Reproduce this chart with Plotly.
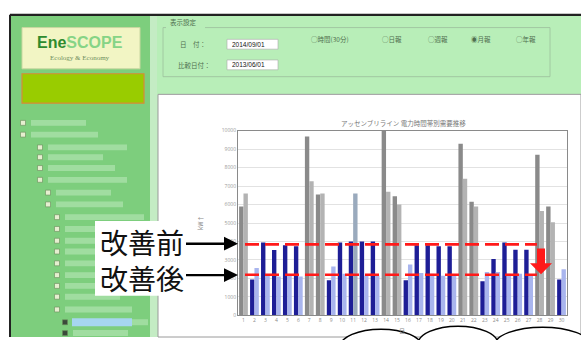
import plotly.graph_objects as go

W, H = 581, 340

# ---------------- data ----------------
days = list(range(1, 31))
holidays = [1, 7, 8, 14, 15, 21, 22, 28, 29]
current = [5900, 1950, 3950, 3540, 3800, 3750, 9680, 6550, 1900, 3950,
           4000, 4000, 4000, 10000, 6450, 1900, 3800, 3800, 3750, 3750,
           9300, 6150, 1850, 3050, 3950, 3550, 3550, 8700, 5900, 1950]
compare = [6600, 2570, 2200, 2100, 2150, 2100, 7260, 6600, 2650, 2250,
           6600, 2150, 2150, 6700, 6000, 2750, 2300, 2250, 2150, 2150,
           7400, 5900, 2350, 2350, 2250, 2250, 2200, 5650, 5050, 2500]
y_ticks = list(range(0, 10001, 1000))
y2_ticks = [0, 10]
level_before = 3846
level_after = 2197
line_span = [1.14, 27.76]
title_text = "アッセンブリライン 電力時間帯別需要推移"
labels_jp = ["改善前", "改善後"]
date_main = "2014/09/01"
date_cmp = "2013/06/01"
radio_labels = ["◯時間(30分)", "◯日報", "◯週報", "◉月報", "◯年報"]
radio_x = [330, 392, 438, 481, 526]

dark_cols = ["#8a8a8a" if d in holidays else "#1e1e96" for d in days]
light_cols = ["#b3b3b3" if d in holidays else "#a9b5ee" for d in days]
light_cols[10] = "#9aaabd"


def X(px):
    return px / W


def Y(py):
    return 1 - py / H


shapes = []


def rect(x0, y0, x1, y1, fill, lc=None, lw=0, layer="below"):
    shapes.append(dict(type="rect", xref="paper", yref="paper",
                       x0=X(x0), x1=X(x1), y0=Y(y1), y1=Y(y0),
                       fillcolor=fill, layer=layer,
                       line=dict(color=lc or fill, width=lw)))


def hline(x0, x1, y, color, w, layer="below", dash=None):
    d = dict(color=color, width=w)
    if dash:
        d["dash"] = dash
    shapes.append(dict(type="line", xref="paper", yref="paper",
                       x0=X(x0), x1=X(x1), y0=Y(y), y1=Y(y), layer=layer, line=d))


def vline(x, y0, y1, color, w, layer="below"):
    shapes.append(dict(type="line", xref="paper", yref="paper",
                       x0=X(x), x1=X(x), y0=Y(y0), y1=Y(y1), layer=layer,
                       line=dict(color=color, width=w)))


def poly(pts, fill, layer="above"):
    p = "M " + " L ".join(f"{X(a):.5f},{Y(b):.5f}" for a, b in pts) + " Z"
    shapes.append(dict(type="path", xref="paper", yref="paper", path=p,
                       fillcolor=fill, line=dict(color=fill, width=0), layer=layer))


# ---------------- UI background ----------------
rect(0, 0, 581, 12, "white")
rect(10, 12, 157, 340, "#7dce7d")          # left panel
rect(150, 12, 158, 340, "#c4ecc4")          # light edge
rect(157, 12, 581, 93, "#b8eeb8")           # top panel
rect(163, 25, 550, 75, "#b8eeb8", "#9cbf9c", 0.8)  # frame
rect(166, 15, 205, 27, "#b8eeb8")
rect(158, 93, 581, 340, "white", "#9a9a9a", 1)     # chart container
hline(10, 581, 12, "#222222", 2.2)
vline(10, 12, 340, "#222222", 2)

# logo & banner
rect(22, 25, 140, 67, "#f2f5c4", "#c9d7a0", 1)
rect(22, 72, 144, 102, "#99cc00", "#d88a3a", 1.2)

# date boxes
rect(227, 37, 278, 47, "white", "#aaaaaa", 0.6)
rect(227, 58, 278, 68, "white", "#aaaaaa", 0.6)

# tree view
tree_rows = [(122, 23), (134, 23), (147, 40), (157, 40), (168, 40), (180, 40),
             (193, 48), (205, 48), (218, 57), (230, 57), (242, 57), (253, 57),
             (265, 57), (277, 57), (288, 57), (299, 57), (312, 57), (325, 65),
             (336, 65)]
for i, (ry, rx) in enumerate(tree_rows):
    rect(rx + 8, ry - 3, min(rx + 8 + 55 + (i % 3) * 12, 148), ry + 3,
         "rgba(205,240,205,0.45)")
    if i == 17:
        rect(rx + 7, ry - 4, 132, ry + 4, "#a6d6ef")
    rect(rx - 2.5, ry - 2.5, rx + 2.5, ry + 2.5,
         "#3a4a3a" if i >= 17 else "#e6efd0", "#6a8a5a", 0.6)

# bottom speech bubbles
for (a, b, t) in [(340, 422, 332), (418, 498, 329), (495, 590, 330)]:
    shapes.append(dict(type="circle", xref="paper", yref="paper",
                       x0=X(a), x1=X(b), y0=Y(t + 36), y1=Y(t),
                       fillcolor="white", line=dict(color="black", width=1.5),
                       layer="above"))

# red dashed reference lines (data coords)
for lv in (level_before, level_after):
    shapes.append(dict(type="line", xref="x", yref="y",
                       x0=line_span[0], x1=line_span[1], y0=lv, y1=lv,
                       layer="above",
                       line=dict(color="#ff1a1a", width=2.6, dash="14px,6px")))

# red down arrow
poly([(537, 250), (545, 250), (545, 265), (552, 265), (541, 276),
      (530, 265), (537, 265)], "#ff1a1a")

# white label box
rect(95, 222, 190, 298, "white", layer="above")

# black arrows
for yy in (245, 277):
    hline(186, 228, yy, "black", 2.4, layer="above")
    poly([(224, yy - 7), (238, yy), (224, yy + 7)], "black")

# ---------------- figure ----------------
fig = go.Figure()
fig.add_bar(x=days, y=current, marker=dict(color=dark_cols, line=dict(width=0)),
            showlegend=False)
fig.add_bar(x=days, y=compare, marker=dict(color=light_cols, line=dict(width=0)),
            showlegend=False)

annos = []


def txt(s, x, y, size, color, xanchor="center", font="Noto Sans CJK JP", **kw):
    annos.append(dict(text=s, x=X(x), y=Y(y), xref="paper", yref="paper",
                      showarrow=False, xanchor=xanchor, yanchor="middle",
                      font=dict(size=size, color=color, family=font), **kw))


txt(title_text, 403, 122, 6.5, "#777777")
txt("<b><span style='color:#2e8b2e'>Ene</span>"
    "<span style='color:#86d486'>SCOPE</span></b>",
    80, 40, 16, "#2e8b2e", font="Liberation Sans")
txt("Ecology &amp; Economy", 80, 56, 7, "#6f8f5f", font="Liberation Serif")
txt("表示設定", 168, 19, 6.5, "#4f6f4f", xanchor="left")
txt("日　付：", 178, 42, 6.5, "#4f6f4f", xanchor="left")
txt("比較日付：", 176, 63, 6.5, "#4f6f4f", xanchor="left")
txt(date_main, 230, 42, 6.5, "#111111", xanchor="left", font="Liberation Sans")
txt(date_cmp, 230, 63, 6.5, "#111111", xanchor="left", font="Liberation Sans")
for s, rx in zip(radio_labels, radio_x):
    txt(s, rx, 37, 6.5, "#4f6f4f")
txt("kW↑", 200, 224, 6, "#888888", textangle=-90)
txt("日", 402, 333, 6, "#888888")
txt(labels_jp[0] + "<br>" + labels_jp[1], 142, 261.5, 28, "#111111")

fig.update_layout(
    width=W, height=H, margin=dict(l=0, r=0, t=0, b=0),
    paper_bgcolor="white", plot_bgcolor="rgba(0,0,0,0)",
    barmode="group", bargap=0.2, bargroupgap=0.0,
    shapes=shapes, annotations=annos,
    xaxis=dict(domain=[X(238), X(567)], range=[0.5, 30.5], tickmode="array",
               tickvals=days, ticktext=[str(d) for d in days],
               tickfont=dict(size=5, color="#8a8a8a"), ticklen=0,
               showgrid=False, showline=True, linecolor="#8a8a8a", linewidth=1,
               mirror=True, anchor="y"),
    yaxis=dict(domain=[Y(318), Y(130)], range=[0, 10000], tickmode="array",
               tickvals=y_ticks, ticktext=[str(v) for v in y_ticks],
               tickfont=dict(size=5, color="#9a9a9a"), ticklen=0,
               showgrid=True, gridcolor="#e2e2e2", gridwidth=1,
               showline=True, linecolor="#8a8a8a", linewidth=1, mirror=True,
               zeroline=False),
    yaxis2=dict(overlaying="y", side="right", range=[0, 10], tickmode="array",
                tickvals=y2_ticks, ticktext=[str(v) for v in y2_ticks],
                tickfont=dict(size=5, color="#9a9a9a"), showgrid=False,
                zeroline=False, showline=False),
)

fig.write_html("out.html")
